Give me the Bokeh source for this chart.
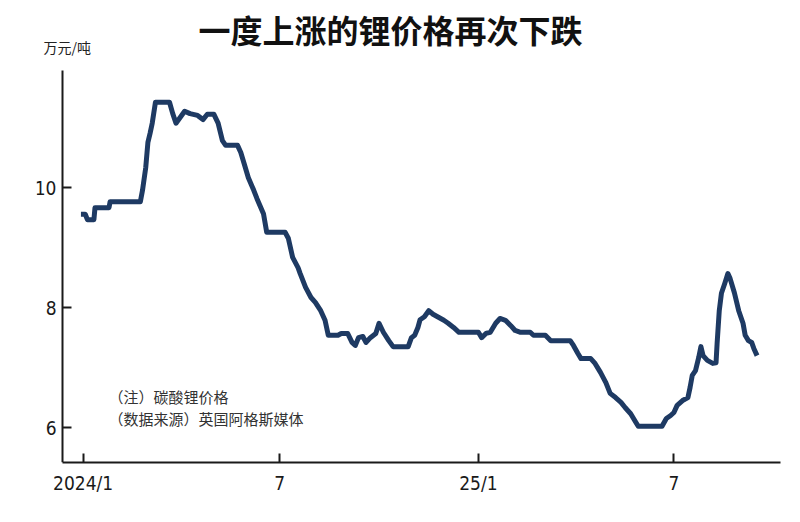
import pandas as pd
from bokeh.plotting import figure
from bokeh.models import Range1d, FixedTicker, Label, ColumnDataSource
from bokeh.embed import file_html
from bokeh.resources import INLINE

# ---- data ----
dates = [
    "2023-12-30", "2024-01-03", "2024-01-05", "2024-01-11", "2024-01-12", "2024-01-25",
    "2024-01-26", "2024-02-23", "2024-02-25", "2024-02-28", "2024-03-01", "2024-03-03",
    "2024-03-05", "2024-03-08", "2024-03-21", "2024-03-24", "2024-03-27", "2024-03-31",
    "2024-04-04", "2024-04-09", "2024-04-16", "2024-04-21", "2024-04-25", "2024-05-01",
    "2024-05-05", "2024-05-09", "2024-05-12", "2024-05-23", "2024-05-26", "2024-05-29",
    "2024-06-02", "2024-06-07", "2024-06-10", "2024-06-16", "2024-06-19", "2024-07-06",
    "2024-07-09", "2024-07-13", "2024-07-18", "2024-07-20", "2024-07-25", "2024-07-30",
    "2024-08-03", "2024-08-08", "2024-08-12", "2024-08-15", "2024-08-24", "2024-08-27",
    "2024-09-02", "2024-09-06", "2024-09-09", "2024-09-12", "2024-09-16", "2024-09-19",
    "2024-09-23", "2024-09-28", "2024-10-01", "2024-10-05", "2024-10-10", "2024-10-14",
    "2024-10-28", "2024-10-31", "2024-11-03", "2024-11-06", "2024-11-08", "2024-11-12",
    "2024-11-16", "2024-11-20", "2024-11-25", "2024-11-30", "2024-12-04", "2024-12-09",
    "2024-12-14", "2025-01-01", "2025-01-04", "2025-01-08", "2025-01-12", "2025-01-17",
    "2025-01-21", "2025-01-26", "2025-01-31", "2025-02-04", "2025-02-09", "2025-02-18",
    "2025-02-21", "2025-03-04", "2025-03-09", "2025-03-27", "2025-03-30", "2025-04-03",
    "2025-04-06", "2025-04-15", "2025-04-19", "2025-04-24", "2025-04-29", "2025-05-03",
    "2025-05-08", "2025-05-13", "2025-05-17", "2025-05-22", "2025-05-27", "2025-05-29",
    "2025-06-20", "2025-06-24", "2025-06-28", "2025-07-01", "2025-07-04", "2025-07-09",
    "2025-07-14", "2025-07-16", "2025-07-18", "2025-07-21", "2025-07-24", "2025-07-26",
    "2025-07-28", "2025-08-01", "2025-08-06", "2025-08-09", "2025-08-10", "2025-08-12",
    "2025-08-14", "2025-08-17", "2025-08-20", "2025-08-22", "2025-08-26", "2025-08-30",
    "2025-09-03", "2025-09-05", "2025-09-08", "2025-09-11", "2025-09-13", "2025-09-16",
]
prices = [
    9.56, 9.56, 9.47, 9.47, 9.67, 9.67,
    9.77, 9.77, 9.96, 10.34, 10.76, 10.91,
    11.08, 11.43, 11.43, 11.24, 11.08, 11.18,
    11.28, 11.24, 11.21, 11.14, 11.23, 11.23,
    11.08, 10.79, 10.71, 10.71, 10.59, 10.41,
    10.17, 9.96, 9.82, 9.57, 9.26, 9.26,
    9.16, 8.84, 8.67, 8.57, 8.34, 8.17,
    8.09, 7.95, 7.79, 7.54, 7.54, 7.57,
    7.57, 7.42, 7.37, 7.50, 7.52, 7.42,
    7.50, 7.57, 7.74, 7.59, 7.45, 7.35,
    7.35, 7.50, 7.54, 7.67, 7.80, 7.85,
    7.95, 7.89, 7.84, 7.79, 7.74, 7.67,
    7.59, 7.59, 7.50, 7.57, 7.59, 7.74,
    7.82, 7.79, 7.70, 7.62, 7.59, 7.59,
    7.54, 7.54, 7.45, 7.45, 7.37, 7.24,
    7.15, 7.15, 7.07, 6.92, 6.75, 6.57,
    6.50, 6.42, 6.33, 6.23, 6.08, 6.02,
    6.02, 6.15, 6.20, 6.25, 6.37, 6.45,
    6.50, 6.67, 6.87, 6.95, 7.17, 7.35,
    7.20, 7.12, 7.07, 7.08, 7.40, 7.95,
    8.24, 8.40, 8.57, 8.49, 8.25, 7.95,
    7.74, 7.54, 7.45, 7.42, 7.32, 7.20,
]
tick_dates = ["2024-01-01", "2024-07-01", "2025-01-01", "2025-07-01"]
tick_labels = ["2024/1", "7", "25/1", "7"]
y_ticks = [6, 8, 10]

title_text = "一度上涨的锂价格再次下跌"
unit_text = "万元/吨"
note_lines = ["（注）碳酸锂价格", "（数据来源）英国阿格斯媒体"]

# ---- layout helpers ----
def ms(d):
    return pd.Timestamp(d).value / 1e6

base = pd.Timestamp("2024-01-01")
def day(n):
    return (base + pd.Timedelta(days=n)).value / 1e6

x_frame_start = day(-43.15)   # frame left edge (room for the unit label)
x_axis_start = day(-19.07)    # where the y axis sits
x_end = day(645.7)
y_low, y_axis_top, y_frame_top = 5.416, 11.96, 13.128

p = figure(width=784, height=506, x_axis_type="datetime",
           x_range=Range1d(x_frame_start, x_end), y_range=Range1d(y_low, y_frame_top),
           output_backend="svg", toolbar_location=None,
           min_border_left=36, min_border_right=4,
           min_border_top=0, min_border_bottom=44)
p.outline_line_color = None
p.xgrid.visible = False
p.ygrid.visible = False
p.background_fill_color = "white"
p.border_fill_color = "white"

src = ColumnDataSource(dict(x=pd.to_datetime(dates), y=prices))
p.line("x", "y", source=src, line_color="#1e3a63", line_width=5, line_join="round")

tick_font = "'Liberation Sans Narrow', 'DejaVu Sans Condensed', sans-serif"

xt = [ms(d) for d in tick_dates]
p.xaxis.ticker = FixedTicker(ticks=xt)
p.xaxis.major_label_overrides = {t: lab for t, lab in zip(xt, tick_labels)}
p.xaxis.bounds = (x_axis_start, x_end)
p.yaxis.ticker = FixedTicker(ticks=y_ticks)
p.yaxis.bounds = (y_low, y_axis_top)
p.yaxis.fixed_location = x_axis_start

for ax in (p.xaxis, p.yaxis):
    ax.axis_line_color = "#1a1a1a"
    ax.axis_line_width = 2
    ax.major_tick_line_color = "#1a1a1a"
    ax.major_tick_line_width = 2
    ax.major_tick_in = 9
    ax.major_tick_out = 0
    ax.minor_tick_line_color = None
    ax.major_label_text_font = tick_font
    ax.major_label_text_font_size = "19px"
    ax.major_label_text_color = "#1a1a1a"
p.xaxis.major_label_standoff = 9
p.yaxis.major_label_standoff = 6

# title & unit label, placed in the space above the axis top
p.add_layout(Label(x=day(284.6), y=12.644, text=title_text,
                   text_font="Noto Sans CJK SC", text_font_style="bold",
                   text_font_size="32px", text_align="center", text_baseline="middle",
                   text_color="#111111"))
p.add_layout(Label(x=day(-36.7), y=12.344, text=unit_text,
                   text_font="Noto Sans CJK SC", text_font_size="14px",
                   text_align="left", text_baseline="middle", text_color="#222222"))

# notes inside the frame
note_x = day(23.5)
for txt, yv in zip(note_lines, [6.51, 6.15]):
    p.add_layout(Label(x=note_x, y=yv, text=txt, text_font="Noto Sans CJK SC",
                       text_font_size="15px", text_align="left", text_baseline="middle",
                       text_color="#333333"))

open("out.html", "w").write(file_html(p, INLINE))
